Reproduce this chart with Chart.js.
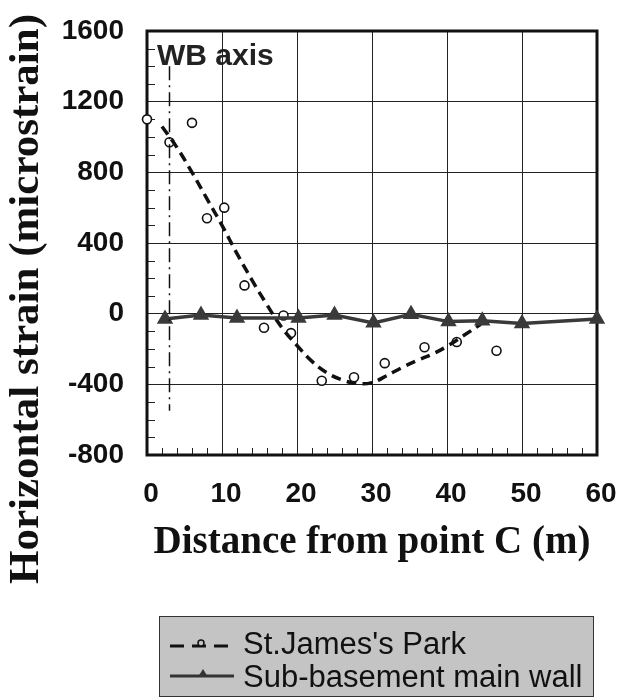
<!DOCTYPE html>
<html>
<head>
<meta charset="utf-8">
<script src="https://cdn.jsdelivr.net/npm/chart.js@4.4.0/dist/chart.umd.min.js"></script>
<style>
  html, body { margin: 0; padding: 0; background: #fff; }
  canvas { display: block; }
</style>
</head>
<body>
<canvas id="chart" width="619" height="698"></canvas>
<script>
// St.James's Park - measured points (open circles)
const parkX = [0, 3, 6, 8, 10.3, 13, 15.6, 18.2, 19.2, 23.3, 27.6, 31.7, 37, 41.3, 46.6];
const parkY = [1100, 970, 1080, 540, 600, 160, -80, -10, -110, -380, -360, -280, -190, -160, -210];

// St.James's Park - fitted curve (dashed)
const trendX = [2, 4, 6, 8, 10, 12, 14, 16, 18, 20, 22, 24, 26, 28, 30, 32, 34, 36, 38, 40, 42, 44.5];
const trendY = [1060, 940, 800, 650, 500, 340, 190, 50, -80, -180, -270, -335, -375, -395, -390, -350, -305, -265, -230, -185, -130, -60];

// Sub-basement main wall (triangles)
const wallX = [2.4, 7.2, 12, 20.2, 25, 30.2, 35.2, 40.2, 44.7, 50, 60];
const wallY = [-30, -8, -25, -25, -8, -52, -3, -45, -40, -55, -30];

// WB axis (dash-dot vertical)
const wbX = [3, 3];
const wbY = [1400, -550];

const xTicks = [0, 10, 20, 30, 40, 50, 60];
const yTicks = [-800, -400, 0, 400, 800, 1200, 1600];
const xMinor = [2, 4, 6, 8, 12, 14, 16, 18, 22, 24, 26, 28, 32, 34, 36, 38, 42, 44, 46, 48, 52, 54, 56, 58];
const yMinor = [-700, -600, -500, -300, -200, -100, 100, 200, 300, 500, 600, 700, 900, 1000, 1100, 1300, 1400, 1500];

const legendItems = ["St.James's Park", "Sub-basement main wall"];

const pts = (xs, ys) => xs.map((x, i) => ({ x: x, y: ys[i] }));

const decor = {
    id: 'decor',
    beforeDatasetsDraw(chart) {
        const { ctx, chartArea: a, scales } = chart;
        ctx.save();
        // minor ticks, inward
        ctx.strokeStyle = '#222';
        ctx.lineWidth = 1;
        ctx.beginPath();
        xMinor.forEach(v => {
            const px = Math.round(scales.x.getPixelForValue(v)) + 0.5;
            ctx.moveTo(px, a.bottom);
            ctx.lineTo(px, a.bottom - 7);
        });
        yMinor.forEach(v => {
            const py = Math.round(scales.y.getPixelForValue(v)) + 0.5;
            ctx.moveTo(a.left, py);
            ctx.lineTo(a.left + 8, py);
        });
        ctx.stroke();
        // frame
        ctx.lineWidth = 3;
        ctx.strokeStyle = '#111';
        ctx.strokeRect(a.left, a.top, a.right - a.left, a.bottom - a.top);
        // WB axis label
        ctx.fillStyle = '#222';
        ctx.font = 'bold 30px "Liberation Sans"';
        ctx.textBaseline = 'middle';
        ctx.textAlign = 'left';
        ctx.fillText('WB axis', a.left + 10, a.top + 26);
        ctx.restore();
    },
    afterDraw(chart) {
        const ctx = chart.ctx;
        ctx.save();
        // y axis title
        ctx.translate(27, 299);
        ctx.rotate(-Math.PI / 2);
        ctx.font = 'bold 43px "Liberation Serif"';
        ctx.fillStyle = '#111';
        ctx.textAlign = 'center';
        ctx.textBaseline = 'middle';
        ctx.fillText('Horizontal strain (microstrain)', 0, 0);
        ctx.restore();

        // legend box
        ctx.save();
        ctx.fillStyle = '#c4c4c4';
        ctx.fillRect(159, 616, 435, 81);
        ctx.strokeStyle = '#333';
        ctx.lineWidth = 1;
        ctx.strokeRect(159.5, 616.5, 434, 80);

        // row 1: dashed + circle
        ctx.strokeStyle = '#111';
        ctx.lineWidth = 3;
        ctx.setLineDash([14, 8]);
        ctx.beginPath();
        ctx.moveTo(170, 646);
        ctx.lineTo(234, 646);
        ctx.stroke();
        ctx.setLineDash([]);
        ctx.lineWidth = 1.5;
        ctx.fillStyle = '#c4c4c4';
        ctx.beginPath();
        ctx.arc(201, 643, 3, 0, Math.PI * 2);
        ctx.fill();
        ctx.stroke();

        // row 2: solid + triangle
        ctx.strokeStyle = '#333';
        ctx.lineWidth = 3;
        ctx.beginPath();
        ctx.moveTo(170, 676);
        ctx.lineTo(234, 676);
        ctx.stroke();
        ctx.fillStyle = '#333';
        ctx.beginPath();
        ctx.moveTo(203, 669);
        ctx.lineTo(208, 677);
        ctx.lineTo(198, 677);
        ctx.closePath();
        ctx.fill();

        ctx.fillStyle = '#111';
        ctx.font = '31px "Liberation Sans"';
        ctx.textAlign = 'left';
        ctx.textBaseline = 'middle';
        ctx.fillText(legendItems[0], 243, 645);
        ctx.fillText(legendItems[1], 243, 678);
        ctx.restore();
    }
};

new Chart(document.getElementById('chart'), {
    type: 'scatter',
    data: {
        datasets: [
            {
                label: 'WB axis',
                data: pts(wbX, wbY),
                showLine: true,
                borderColor: '#111',
                borderWidth: 1.5,
                borderDash: [14, 5, 2, 5],
                pointRadius: 0
            },
            {
                label: legendItems[1],
                data: pts(wallX, wallY),
                showLine: true,
                borderColor: '#3a3a3a',
                backgroundColor: '#3a3a3a',
                borderWidth: 3.5,
                pointStyle: 'triangle',
                pointRadius: 6,
                clip: false
            },
            {
                label: legendItems[0] + ' fit',
                data: pts(trendX, trendY),
                showLine: true,
                borderColor: '#111',
                borderWidth: 3.5,
                borderDash: [10, 6],
                tension: 0.4,
                pointRadius: 0
            },
            {
                label: legendItems[0],
                data: pts(parkX, parkY),
                showLine: false,
                borderColor: '#111',
                backgroundColor: '#fff',
                borderWidth: 1.6,
                pointRadius: 4.5,
                clip: false
            }
        ]
    },
    options: {
        responsive: false,
        animation: false,
        layout: { autoPadding: false, padding: { top: 31, right: 22, bottom: 132, left: 0 } },
        plugins: {
            legend: { display: false },
            tooltip: { enabled: false }
        },
        scales: {
            x: {
                type: 'linear',
                min: 0,
                max: 60,
                afterBuildTicks: s => { s.ticks = xTicks.map(v => ({ value: v })); },
                afterFit: s => { s.height = 111; s.paddingLeft = 0; s.paddingRight = 0; },
                grid: { color: '#222', lineWidth: 1, drawTicks: false },
                border: { display: false },
                ticks: {
                    font: { family: 'Liberation Sans', size: 28, weight: 'bold' },
                    color: '#111',
                    padding: 22,
                    labelOffset: 4,
                    maxRotation: 0,
                    autoSkip: false,
                    callback: v => String(v)
                },
                title: {
                    display: true,
                    text: 'Distance from point C (m)',
                    font: { family: 'Liberation Serif', size: 39, weight: 'bold' },
                    color: '#111',
                    padding: 0
                }
            },
            y: {
                type: 'linear',
                min: -800,
                max: 1600,
                afterBuildTicks: s => { s.ticks = yTicks.map(v => ({ value: v })); },
                afterFit: s => { s.width = 147; s.paddingTop = 0; s.paddingBottom = 0; },
                grid: { color: '#222', lineWidth: 1, drawTicks: false },
                border: { display: false },
                ticks: {
                    font: { family: 'Liberation Sans', size: 28, weight: 'bold' },
                    color: '#111',
                    padding: 23,
                    autoSkip: false,
                    callback: v => String(v)
                }
            }
        }
    },
    plugins: [decor]
});
</script>
</body>
</html>
